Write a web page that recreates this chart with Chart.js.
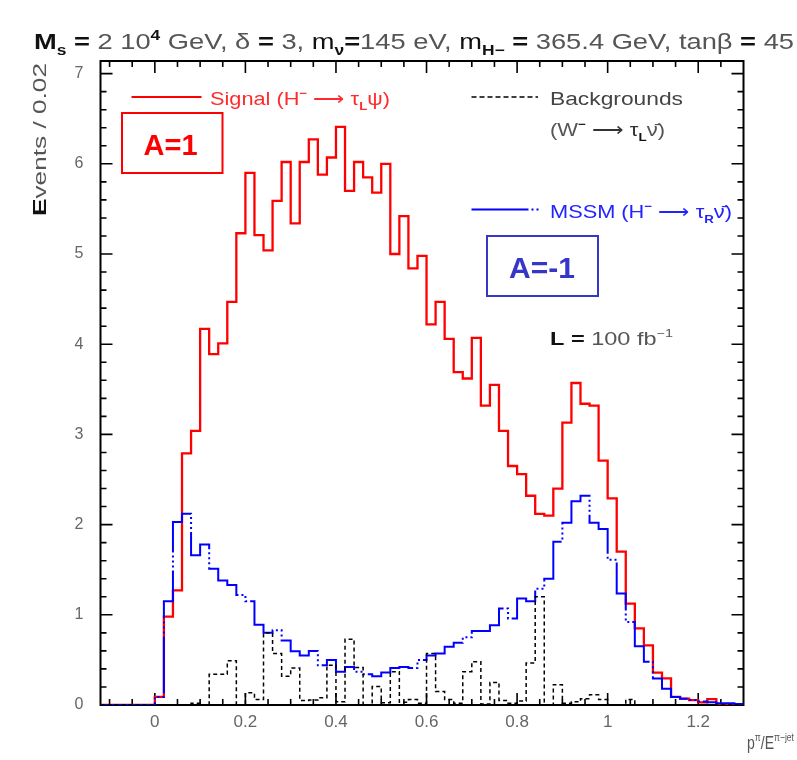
<!DOCTYPE html>
<html>
<head>
<meta charset="utf-8">
<script src="https://cdn.jsdelivr.net/npm/chart.js@4"></script>
<style>
html,body{margin:0;padding:0;background:#fff;}
#wrap{width:797px;height:760px;position:relative;}
</style>
</head>
<body>
<div id="wrap"><canvas id="c"></canvas></div>
<script>
// ---- data ----
const binEdges = [-0.12,-0.10,-0.08,-0.06,-0.04,-0.02,0.00,0.02,0.04,0.06,0.08,0.10,0.12,0.14,0.16,0.18,0.20,0.22,0.24,0.26,0.28,0.30,0.32,0.34,0.36,0.38,0.40,0.42,0.44,0.46,0.48,0.50,0.52,0.54,0.56,0.58,0.60,0.62,0.64,0.66,0.68,0.70,0.72,0.74,0.76,0.78,0.80,0.82,0.84,0.86,0.88,0.90,0.92,0.94,0.96,0.98,1.00,1.02,1.04,1.06,1.08,1.10,1.12,1.14,1.16,1.18,1.20,1.22,1.24,1.26,1.28,1.30];

const signalValues = [0,0,0,0,0,0,
0.09,0.98,1.27,2.79,3.04,4.17,3.89,4.01,4.47,5.23,
5.90,5.21,5.04,5.59,6.02,5.34,6.02,6.27,5.88,6.07,
6.41,5.70,6.02,5.85,5.68,6.00,5.00,5.42,4.84,4.98,
4.22,4.47,4.06,3.69,3.62,4.07,3.32,3.55,3.04,2.65,
2.56,2.32,2.12,2.10,2.40,3.13,3.57,3.34,3.32,2.71,
2.29,1.70,1.125,0.85,0.66,0.36,0.295,0.09,0.07,0.055,
0.03,0.066,0.01,0,0];

const mssmValues = [0,0,0,0,0,0,
0.09,1.15,2.03,2.12,1.66,1.78,1.51,1.38,1.33,1.22,
1.15,0.89,0.80,0.83,0.715,0.595,0.55,0.60,0.44,0.50,
0.37,0.42,0.37,0.34,0.32,0.36,0.41,0.42,0.41,0.50,
0.55,0.57,0.645,0.69,0.75,0.82,0.82,0.885,1.07,0.96,
1.18,1.15,1.29,1.40,1.81,2.02,2.26,2.32,2.02,1.95,
1.61,1.235,0.92,0.65,0.48,0.295,0.18,0.09,0.07,0.055,
0.04,0.03,0.02,0.02,0.01];

const backgroundValues = [0,0,0,0,0,0,
0,0,0,0,0.02,0,0.34,0.34,0.49,0,
0.135,0.06,0.80,0.57,0.32,0.41,0.05,0.055,0.08,0.44,
0.035,0.73,0.415,0,0.205,0.025,0.37,0.03,0.06,0.02,
0.57,0.15,0.06,0.02,0.37,0.48,0.01,0.25,0.05,0.02,
0.045,0.465,1.20,0,0.225,0.02,0.035,0.07,0.115,0.06,
0,0,0.06,0,0,0,0,0,0,0,
0,0,0,0,0];

const xTickValues = [0,0.2,0.4,0.6,0.8,1,1.2];
const xTickLabels = ['0','0.2','0.4','0.6','0.8','1','1.2'];
const yTickValues = [0,1,2,3,4,5,6,7];
const yTickLabels = ['0','1','2','3','4','5','6','7'];

// histogram points at bin left edges + closing right edge
function histPoints(vals){
  const pts = vals.map((v,i)=>({x:binEdges[i], y:v}));
  pts.push({x:binEdges[vals.length], y:vals[vals.length-1]});
  return pts;
}

const FAM = '"Liberation Sans", Arial, Helvetica, sans-serif';

function drawRich(ctx, segs, x, y, size, fitW, color){
  const fontFor = s => `${s.b?'bold ':''}${(s.s==='sub'||s.s==='sup')?Math.round(size*0.62):size}px ${FAM}`;
  let w = 0;
  segs.forEach(s=>{ctx.font=fontFor(s); w+=ctx.measureText(s.t).width;});
  const sx = fitW ? fitW/w : 1;
  ctx.save();
  ctx.translate(x,y);
  ctx.scale(sx,1);
  ctx.textBaseline='alphabetic';
  ctx.textAlign='left';
  let cx=0;
  segs.forEach(s=>{
    ctx.font=fontFor(s);
    ctx.fillStyle=s.c||color;
    const dy = s.s==='sub'? size*0.25 : s.s==='sup'? -size*0.42 : 0;
    ctx.fillText(s.t,cx,dy);
    cx+=ctx.measureText(s.t).width;
  });
  ctx.restore();
}

const decor = {
  id:'decor',
  beforeDatasetsDraw(chart){
    const ctx=chart.ctx, ca=chart.chartArea, xs=chart.scales.x, ys=chart.scales.y;
    ctx.save();
    ctx.strokeStyle='#000';
    ctx.lineWidth=2;
    ctx.strokeRect(ca.left,ca.top,ca.right-ca.left,ca.bottom-ca.top);
    ctx.lineWidth=1.6;
    ctx.beginPath();
    for(let k=-2;k<=26;k++){
      const v=k*0.05, px=xs.getPixelForValue(v);
      if(px<ca.left+1||px>ca.right-1) continue;
      const len = (k%4===0)?12:6;
      ctx.moveTo(px,ca.bottom); ctx.lineTo(px,ca.bottom-len);
      ctx.moveTo(px,ca.top); ctx.lineTo(px,ca.top+len);
    }
    for(let k=0;k<=35;k++){
      const v=k*0.2, py=ys.getPixelForValue(v);
      if(py<ca.top+1||py>ca.bottom-1) continue;
      const len=(k%5===0)?12:6;
      ctx.moveTo(ca.left,py); ctx.lineTo(ca.left+len,py);
      ctx.moveTo(ca.right,py); ctx.lineTo(ca.right-len,py);
    }
    ctx.stroke();
    ctx.restore();
  },
  afterDraw(chart){
    const ctx=chart.ctx;
    const K='#111', G='#555';
    // title
    drawRich(ctx,[
      {t:'M',b:1,c:K},{t:'s',s:'sub',b:1,c:K},{t:' = ',b:1,c:K},{t:'2 10',c:G},{t:'4',s:'sup',b:1,c:K},
      {t:' GeV, δ ',c:G},{t:'=',b:1,c:K},{t:' 3, ',c:G},{t:'m',c:K},{t:'ν',s:'sub',b:1,c:K},{t:'=',b:1,c:K},
      {t:'145 eV, ',c:G},{t:'m',c:K},{t:'H−',s:'sub',b:1,c:K},{t:' = ',b:1,c:K},{t:'365.4 GeV, tanβ ',c:G},
      {t:'=',b:1,c:K},{t:' 45',c:G}
    ],34,49,22,760,G);

    // y axis title (rotated)
    ctx.save();
    ctx.translate(46,216);
    ctx.rotate(-Math.PI/2);
    drawRich(ctx,[{t:'E',b:1,c:K},{t:'vents / 0.02',c:G}],0,0,19,153,G);
    ctx.restore();

    // x axis title
    drawRich(ctx,[{t:'p',c:G},{t:'π',s:'sup',c:G},{t:'/E',c:G},{t:'π−jet',s:'sup',c:G}],747,749,18,47,G);

    // legend: signal
    ctx.save();
    ctx.lineWidth=2.2; ctx.strokeStyle='#ff0000';
    ctx.beginPath(); ctx.moveTo(131.5,97); ctx.lineTo(201.5,97); ctx.stroke();
    ctx.restore();
    drawRich(ctx,[{t:'Signal (H'},{t:'−',s:'sup',b:1},{t:' ⟶ τ'},{t:'L',s:'sub',b:1},{t:'ψ)'}],210,105,18,180,'#ff2a2a');

    // legend: backgrounds
    ctx.save();
    ctx.lineWidth=1.5; ctx.strokeStyle='#000'; ctx.setLineDash([5,3]);
    ctx.beginPath(); ctx.moveTo(471.5,97); ctx.lineTo(538,97); ctx.stroke();
    ctx.restore();
    drawRich(ctx,[{t:'Backgrounds'}],550,105,18,133,'#444');
    drawRich(ctx,[{t:'(W'},{t:'−',s:'sup',b:1,c:K},{t:' ⟶ τ',c:'#333'},{t:'L',s:'sub',b:1,c:K},{t:'ν̄)'}],550,136,18,115,'#555');

    // legend: MSSM
    ctx.save();
    ctx.lineWidth=2; ctx.strokeStyle='#0000ff'; ctx.setLineDash([57,3,2,3,2,3,2,30]);
    ctx.beginPath(); ctx.moveTo(471.5,209.5); ctx.lineTo(539,209.5); ctx.stroke();
    ctx.restore();
    drawRich(ctx,[{t:'MSSM (H'},{t:'−',s:'sup',b:1},{t:' ⟶ τ'},{t:'R',s:'sub',b:1},{t:'ν̄)'}],550,218,18,182,'#2323ff');

    // luminosity
    drawRich(ctx,[{t:'L',b:1,c:K},{t:' = ',b:1,c:K},{t:'100 fb',c:G},{t:'−1',s:'sup',c:G}],550,345,18,123,G);

    // A=1 box
    ctx.save();
    ctx.lineWidth=2; ctx.strokeStyle='#ff0000';
    ctx.strokeRect(122,113,100.5,60);
    ctx.fillStyle='#ff0000'; ctx.font=`bold 29px ${FAM}`;
    ctx.textAlign='center'; ctx.textBaseline='alphabetic';
    ctx.fillText('A=1',170.5,155);
    // A=-1 box
    ctx.strokeStyle='#3636c8';
    ctx.strokeRect(487,236,111,60);
    ctx.fillStyle='#3636c8'; ctx.font=`bold 30px ${FAM}`;
    ctx.fillText('A=-1',542,278);
    ctx.restore();
  }
};

new Chart(document.getElementById('c'),{
  type:'line',
  data:{
    datasets:[
      {label:'Signal', data:histPoints(signalValues), stepped:true, borderColor:'#ff0000', borderWidth:2.3, pointRadius:0, fill:false, order:3},
      {label:'MSSM', data:histPoints(mssmValues), stepped:true, borderColor:'#0000ff', borderWidth:2, pointRadius:0, fill:false, order:2,
        borderDash:[57,3,2,3,2,3,2,3]},
      {label:'Backgrounds', data:histPoints(backgroundValues), stepped:true, borderColor:'#000000', borderWidth:1.5, pointRadius:0, fill:false, order:1,
        borderDash:[4,3]}
    ]
  },
  options:{
    responsive:true,
    maintainAspectRatio:false,
    animation:false,
    events:[],
    layout:{padding:{left:0,right:53.5,top:61,bottom:0}},
    plugins:{legend:{display:false},tooltip:{enabled:false},title:{display:false}},
    scales:{
      x:{type:'linear',min:-0.12,max:1.30,
        grid:{display:false},border:{display:false},
        afterBuildTicks:s=>{s.ticks=xTickValues.map(v=>({value:v}));},
        afterFit:s=>{s.height=55;},
        ticks:{autoSkip:false,maxRotation:0,padding:-1,color:'#666',font:{family:FAM,size:17},
          callback:(v,i)=>xTickLabels[i]}
      },
      y:{type:'linear',min:0,max:7.14,
        grid:{display:false},border:{display:false},
        afterBuildTicks:s=>{s.ticks=yTickValues.map(v=>({value:v}));},
        afterFit:s=>{s.width=100.5;},
        ticks:{autoSkip:false,padding:9,color:'#666',font:{family:FAM,size:16},
          callback:(v,i)=>yTickLabels[i]}
      }
    }
  },
  plugins:[decor]
});
</script>
</body>
</html>
